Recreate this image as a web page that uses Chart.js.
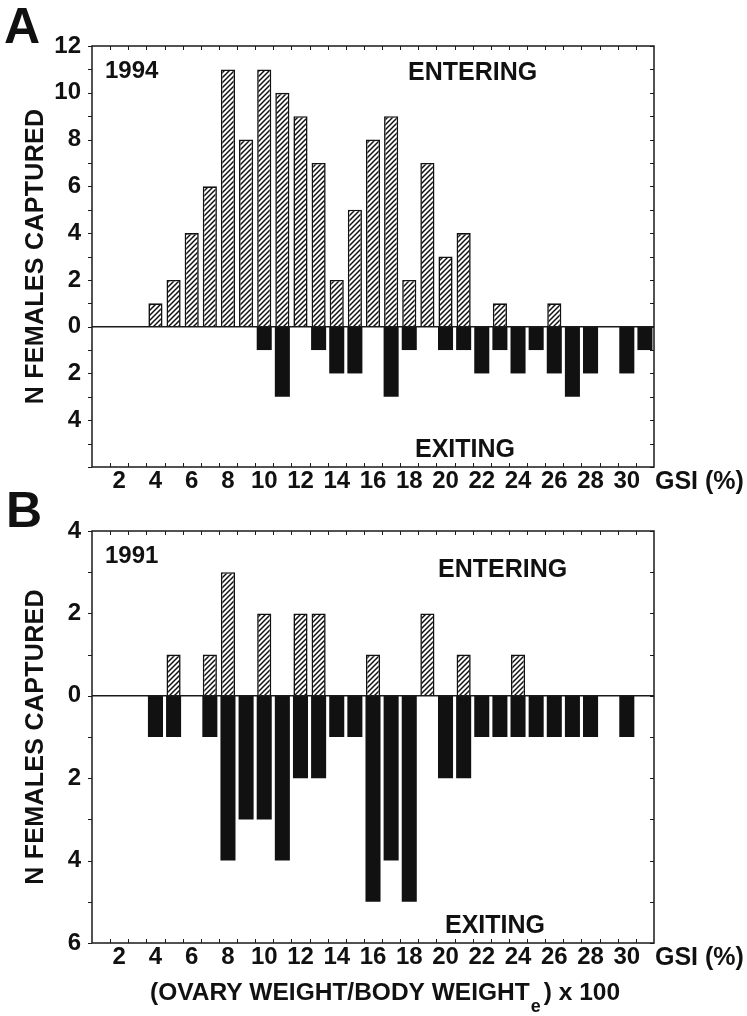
<!DOCTYPE html>
<html>
<head>
<meta charset="utf-8">
<script src="https://cdn.jsdelivr.net/npm/chart.js@4.4.1/dist/chart.umd.min.js"></script>
<style>
    body { margin: 0; background: #fff; }
    canvas { position: absolute; left: 0; }
    #graficoA { top: 0; }
    #graficoB { top: 490px; }
</style>
</head>
<body>
<canvas id="graficoA" width="747" height="500"></canvas>
<canvas id="graficoB" width="747" height="526"></canvas>
<script>
// classes de GSI (1..31), rotulo so nas pares
const rotulosGSI = ['', '2', '', '4', '', '6', '', '8', '', '10', '', '12', '', '14', '', '16',
    '', '18', '', '20', '', '22', '', '24', '', '26', '', '28', '', '30', '']

// 1994
const entrando1994 = [0, 0, 0, 1, 2, 4, 6, 11, 8, 11, 10, 9, 7, 2, 5, 8, 9, 2, 7, 3, 4, 0, 1, 0, 0, 1, 0, 0, 0, 0, 0]
const saindo1994 = [0, 0, 0, 0, 0, 0, 0, 0, 0, 1, 3, 0, 1, 2, 2, 0, 3, 1, 0, 1, 1, 2, 1, 2, 1, 2, 3, 2, 0, 2, 1]

// 1991
const entrando1991 = [0, 0, 0, 0, 1, 0, 1, 3, 0, 2, 0, 2, 2, 0, 0, 1, 0, 0, 2, 0, 1, 0, 0, 1, 0, 0, 0, 0, 0, 0, 0]
const saindo1991 = [0, 0, 0, 1, 1, 0, 1, 4, 3, 3, 4, 2, 2, 1, 1, 5, 4, 5, 0, 2, 2, 1, 1, 1, 1, 1, 1, 1, 0, 1, 0]

const fonte = "'Liberation Sans', Arial, Helvetica, sans-serif"
Chart.defaults.font.family = fonte
Chart.defaults.color = '#111'

function criaHachura() {
    const c = document.createElement('canvas')
    c.width = 5
    c.height = 5
    const ctx = c.getContext('2d')
    ctx.fillStyle = '#fff'
    ctx.fillRect(0, 0, 5, 5)
    ctx.strokeStyle = '#111'
    ctx.lineWidth = 1.5
    ctx.beginPath()
    ctx.moveTo(0, 5); ctx.lineTo(5, 0)
    ctx.moveTo(-1, 1); ctx.lineTo(1, -1)
    ctx.moveTo(4, 6); ctx.lineTo(6, 4)
    ctx.stroke()
    return c
}
const hachura = criaHachura()

function texto(ctx, t, x, y, tam) {
    ctx.font = 'bold ' + tam + 'px ' + fonte
    ctx.fillText(t, x, y)
}

// moldura, marcas dos eixos, linha do zero e textos
const moldura = {
    id: 'moldura',
    afterDatasetsDraw(chart, args, op) {
        const { ctx, chartArea: a, scales: { x, y } } = chart
        ctx.save()
        ctx.strokeStyle = '#1a1a1a'
        ctx.lineWidth = 1
        ctx.beginPath()
        for (let v = y.min; v <= y.max; v++) {
            const py = Math.round(y.getPixelForValue(v)) + 0.5
            ctx.moveTo(a.left - 4, py); ctx.lineTo(a.left, py)
            ctx.moveTo(a.right - 4, py); ctx.lineTo(a.right, py)
        }
        const n = chart.data.labels.length
        const w = (a.right - a.left) / n
        for (let i = 1; i < n; i++) {
            const px = Math.round(a.left + i * w) + 0.5
            ctx.moveTo(px, a.top); ctx.lineTo(px, a.top + 4)
            ctx.moveTo(px, a.bottom); ctx.lineTo(px, a.bottom - 4)
        }
        ctx.stroke()

        ctx.lineWidth = 1.5
        ctx.strokeRect(a.left, a.top, a.right - a.left, a.bottom - a.top)
        const y0 = y.getPixelForValue(0)
        ctx.beginPath()
        ctx.moveTo(a.left, y0); ctx.lineTo(a.right, y0)
        ctx.stroke()

        ctx.fillStyle = '#111'
        ctx.textBaseline = 'alphabetic'
        ctx.textAlign = 'left'
        texto(ctx, op.painel, op.painelX, op.painelY, 50)
        texto(ctx, op.ano, a.left + 13, op.anoY, 24)
        texto(ctx, 'ENTERING', op.entX, op.entY, 25)
        texto(ctx, 'EXITING', op.saiX, op.saiY, 25)
        texto(ctx, 'GSI (%)', a.right + 1, op.gsiY, 25)

        // titulo do eixo y
        ctx.save()
        ctx.translate(36.5, (a.top + a.bottom) / 2)
        ctx.rotate(-Math.PI / 2)
        ctx.textAlign = 'center'
        ctx.textBaseline = 'middle'
        ctx.font = 'bold 25px ' + fonte
        ctx.letterSpacing = '0.3px'
        ctx.fillText('N FEMALES CAPTURED', 0, 0)
        ctx.restore()

        if (op.rodape) {
            const yb = op.rodapeY
            let xb = 150
            ctx.font = 'bold 24.5px ' + fonte
            const p1 = '(OVARY WEIGHT/BODY WEIGHT'
            ctx.fillText(p1, xb, yb)
            xb += ctx.measureText(p1).width + 1
            ctx.font = 'bold 18px ' + fonte
            ctx.fillText('e', xb, yb + 12)
            xb += ctx.measureText('e').width + 3
            ctx.font = 'bold 24.5px ' + fonte
            ctx.fillText(') x 100', xb, yb)
        }
        ctx.restore()
    }
}

function montaGrafico(id, entrando, saindo, yMin, yMax, alturaX, rodapeEspaco, textos, ocultaMin) {
    const canvas = document.getElementById(id)
    const padrao = canvas.getContext('2d').createPattern(hachura, 'repeat')
    return new Chart(canvas, {
        type: 'bar',
        data: {
            labels: rotulosGSI,
            datasets: [{
                label: 'Entering',
                data: entrando.map(v => v ? v : null),
                backgroundColor: padrao,
                borderColor: '#111',
                borderWidth: 1.6,
                barPercentage: 0.78,
                categoryPercentage: 1
            }, {
                label: 'Exiting',
                data: saindo.map(v => v ? -v : null),
                backgroundColor: '#111',
                borderWidth: 0,
                barPercentage: 0.83,
                categoryPercentage: 1
            }]
        },
        options: {
            responsive: false,
            animation: false,
            layout: { padding: { left: 0, top: textos.topo, right: 93, bottom: rodapeEspaco } },
            plugins: {
                legend: { display: false },
                tooltip: { enabled: false },
                moldura: textos
            },
            scales: {
                x: {
                    stacked: true,
                    grid: { display: false, drawTicks: false },
                    border: { display: false },
                    ticks: {
                        autoSkip: false,
                        maxRotation: 0,
                        padding: 0,
                        color: '#111',
                        font: { size: 24, weight: 'bold' }
                    },
                    afterFit: (s) => { s.height = alturaX }
                },
                y: {
                    stacked: true,
                    min: yMin,
                    max: yMax,
                    grid: { display: false, drawTicks: false },
                    border: { display: false },
                    ticks: {
                        stepSize: 1,
                        autoSkip: false,
                        padding: 11,
                        color: '#111',
                        font: { size: 24, weight: 'bold' },
                        callback: (v) => (v % 2 === 0 && !(ocultaMin && v === yMin)) ? Math.abs(v) : ''
                    },
                    afterFit: (s) => { s.width = 92 }
                }
            }
        },
        plugins: [moldura]
    })
}

const graficoA = montaGrafico('graficoA', entrando1994, saindo1994, -6, 12, 33, 0, {
    topo: 46, painel: 'A', painelX: 4, painelY: 43, ano: '1994', anoY: 78,
    entX: 408, entY: 80, saiX: 415, saiY: 457, gsiY: 489, rodape: false
}, true)

const graficoB = montaGrafico('graficoB', entrando1991, saindo1991, -6, 4, 30, 43, {
    topo: 41, painel: 'B', painelX: 6, painelY: 37, ano: '1991', anoY: 73,
    entX: 438, entY: 87, saiX: 445, saiY: 443, gsiY: 475, rodape: true, rodapeY: 510
}, false)
</script>
</body>
</html>
